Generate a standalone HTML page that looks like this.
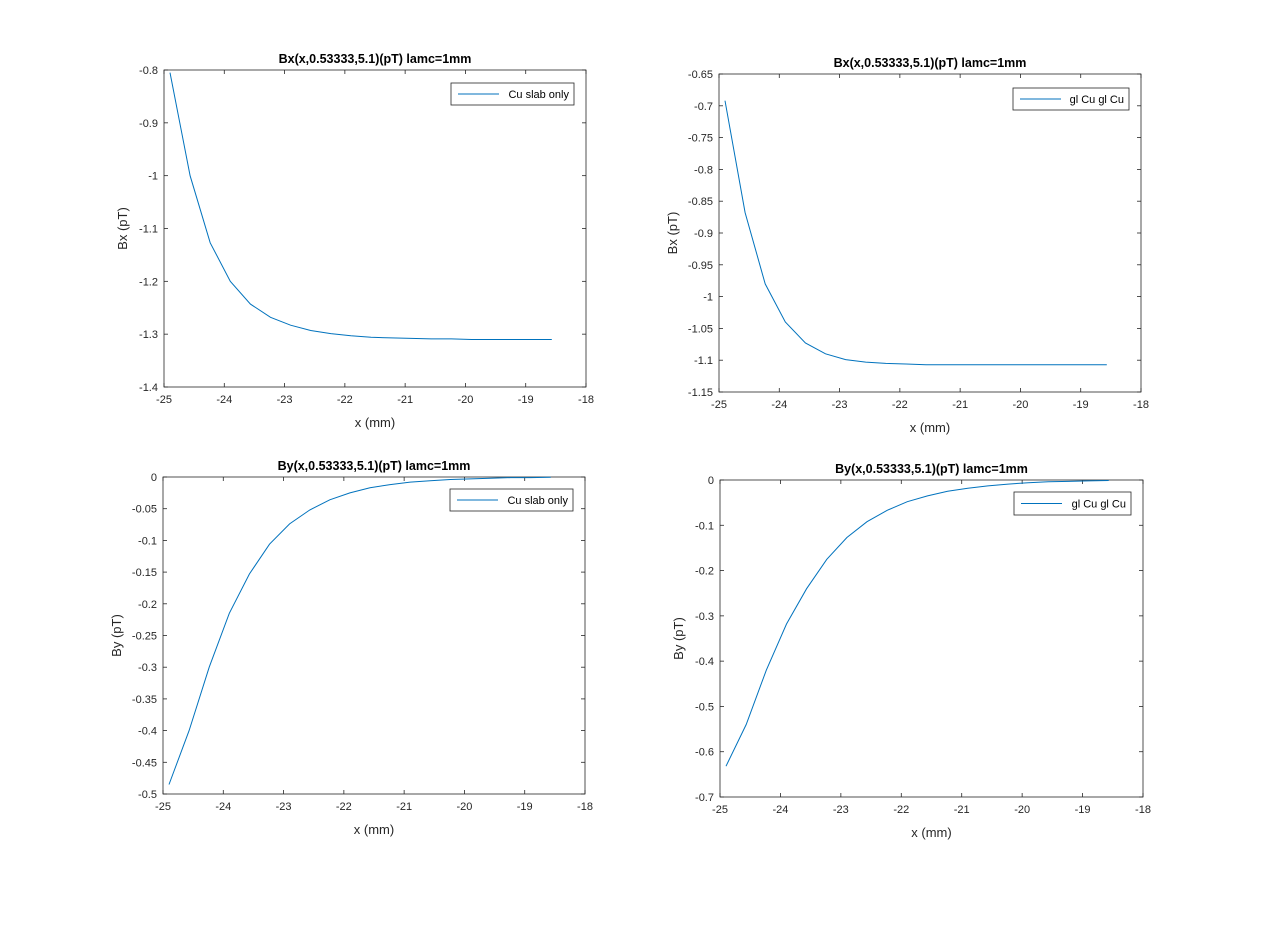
<!DOCTYPE html>
<html><head><meta charset="utf-8"><style>
body{margin:0;background:#fff;}
svg{display:block;font-family:"Liberation Sans",sans-serif;}
</style></head><body>
<svg id="fig" width="1264" height="932" viewBox="0 0 1264 932"></svg>
<script>
const xValues = [-24.9,-24.567,-24.233,-23.9,-23.567,-23.233,-22.9,-22.567,-22.233,-21.9,-21.567,-21.233,-20.9,-20.567,-20.233,-19.9,-19.567,-19.233,-18.9,-18.567];
const bxCuSlab = [-0.805,-1.0,-1.127,-1.2,-1.243,-1.268,-1.283,-1.293,-1.299,-1.303,-1.306,-1.307,-1.308,-1.309,-1.309,-1.31,-1.31,-1.31,-1.31,-1.31];
const bxGlCu = [-0.692,-0.868,-0.98,-1.04,-1.073,-1.09,-1.099,-1.103,-1.105,-1.106,-1.107,-1.107,-1.107,-1.107,-1.107,-1.107,-1.107,-1.107,-1.107,-1.107];
const byCuSlab = [-0.485,-0.40,-0.30,-0.215,-0.153,-0.106,-0.074,-0.052,-0.036,-0.025,-0.017,-0.012,-0.008,-0.006,-0.004,-0.003,-0.002,-0.001,-0.001,-0.0005];
const byGlCu = [-0.632,-0.54,-0.42,-0.318,-0.24,-0.175,-0.127,-0.092,-0.067,-0.048,-0.035,-0.025,-0.018,-0.013,-0.009,-0.006,-0.004,-0.003,-0.002,-0.001];
const xTicks = [-25,-24,-23,-22,-21,-20,-19,-18];
const yTicksTL = [-0.8,-0.9,-1,-1.1,-1.2,-1.3,-1.4];
const yTicksTR = [-0.65,-0.7,-0.75,-0.8,-0.85,-0.9,-0.95,-1,-1.05,-1.1,-1.15];
const yTicksBL = [0,-0.05,-0.1,-0.15,-0.2,-0.25,-0.3,-0.35,-0.4,-0.45,-0.5];
const yTicksBR = [0,-0.1,-0.2,-0.3,-0.4,-0.5,-0.6,-0.7];

const NS="http://www.w3.org/2000/svg";
const fig=document.getElementById('fig');
function mk(tag,attrs,parent){const e=document.createElementNS(NS,tag);for(const k in attrs)e.setAttribute(k,attrs[k]);(parent||fig).appendChild(e);return e;}

const panels=[
 {id:'bx-cu-slab',L:164,R:586,T:70,B:387,ymin:-1.4,ymax:-0.8,ticks:yTicksTL,ys:bxCuSlab,title:'Bx(x,0.53333,5.1)(pT) lamc=1mm',ylab:'Bx (pT)',leg:'Cu slab only',lg:[451,83,123,22]},
 {id:'bx-gl-cu',L:719,R:1141,T:74,B:392,ymin:-1.15,ymax:-0.65,ticks:yTicksTR,ys:bxGlCu,title:'Bx(x,0.53333,5.1)(pT) lamc=1mm',ylab:'Bx (pT)',leg:'gl Cu gl Cu',lg:[1013,88,116,22]},
 {id:'by-cu-slab',L:163,R:585,T:477,B:794,ymin:-0.5,ymax:0,ticks:yTicksBL,ys:byCuSlab,title:'By(x,0.53333,5.1)(pT) lamc=1mm',ylab:'By (pT)',leg:'Cu slab only',lg:[450,489,123,22]},
 {id:'by-gl-cu',L:720,R:1143,T:480,B:797,ymin:-0.7,ymax:0,ticks:yTicksBR,ys:byGlCu,title:'By(x,0.53333,5.1)(pT) lamc=1mm',ylab:'By (pT)',leg:'gl Cu gl Cu',lg:[1014,492,117,23]}
];

panels.forEach(p=>{
 const g=mk('g',{});
 
 
 const sx=v=>p.L+(v-(-25))/7*(p.R-p.L);
 const sy=v=>p.B-(v-p.ymin)/(p.ymax-p.ymin)*(p.B-p.T);
 const ax=mk('rect',{x:p.L,y:p.T,width:p.R-p.L,height:p.B-p.T,fill:'#fff',stroke:'#262626','stroke-width':0.8},g);
 
 
 xTicks.forEach(t=>{
  const x=sx(t);
  mk('line',{x1:x,x2:x,y1:p.B,y2:p.B-4,stroke:'#262626','stroke-width':0.8},g);
  mk('line',{x1:x,x2:x,y1:p.T,y2:p.T+4,stroke:'#262626','stroke-width':0.8},g);
  const tl=mk('text',{x:x,y:p.B+16,'text-anchor':'middle','font-size':11,fill:'#262626'},g);
  tl.textContent=String(t);
  
  
 });
 p.ticks.forEach(t=>{
  const y=sy(t);
  mk('line',{x1:p.L,x2:p.L+4,y1:y,y2:y,stroke:'#262626','stroke-width':0.8},g);
  mk('line',{x1:p.R,x2:p.R-4,y1:y,y2:y,stroke:'#262626','stroke-width':0.8},g);
  const tl=mk('text',{x:p.L-6,y:y+4,'text-anchor':'end','font-size':11,fill:'#262626'},g);
  tl.textContent=String(t);
  
  
 });
 const pts=xValues.map((x,i)=>sx(x).toFixed(1)+','+sy(p.ys[i]).toFixed(1)).join(' ');
 const line=mk('polyline',{points:pts,fill:'none',stroke:'#0072BD','stroke-width':1},g);
 
 
 const title=mk('text',{x:(p.L+p.R)/2,y:p.T-7,'text-anchor':'middle','font-size':12.5,'font-weight':'bold',fill:'#000'},g);
 title.textContent=p.title;
 
 
 const xl=mk('text',{x:(p.L+p.R)/2,y:p.B+40,'text-anchor':'middle','font-size':13,fill:'#262626'},g);
 xl.textContent='x (mm)';
 
 
 const yc=(p.T+p.B)/2, yx=p.L-(p.ticks.some(t=>String(t).length>4)?42:37);
 const yl=mk('text',{x:yx,y:yc,'text-anchor':'middle','font-size':13,fill:'#262626',transform:'rotate(-90 '+yx+' '+yc+')'},g);
 yl.textContent=p.ylab;
 
 
 const lg=mk('g',{},g);
 
 
 mk('rect',{x:p.lg[0],y:p.lg[1],width:p.lg[2],height:p.lg[3],fill:'#fff',stroke:'#262626','stroke-width':0.8},lg);
 const ls=mk('line',{x1:p.lg[0]+7,x2:p.lg[0]+48,y1:p.lg[1]+p.lg[3]/2,y2:p.lg[1]+p.lg[3]/2,stroke:'#0072BD','stroke-width':1},lg);
 
 
 const lt=mk('text',{x:p.lg[0]+p.lg[2]-5,y:p.lg[1]+p.lg[3]/2+4,'text-anchor':'end','font-size':11,fill:'#000'},lg);
 lt.textContent=p.leg;
 
 
});
</script>
</body></html>
